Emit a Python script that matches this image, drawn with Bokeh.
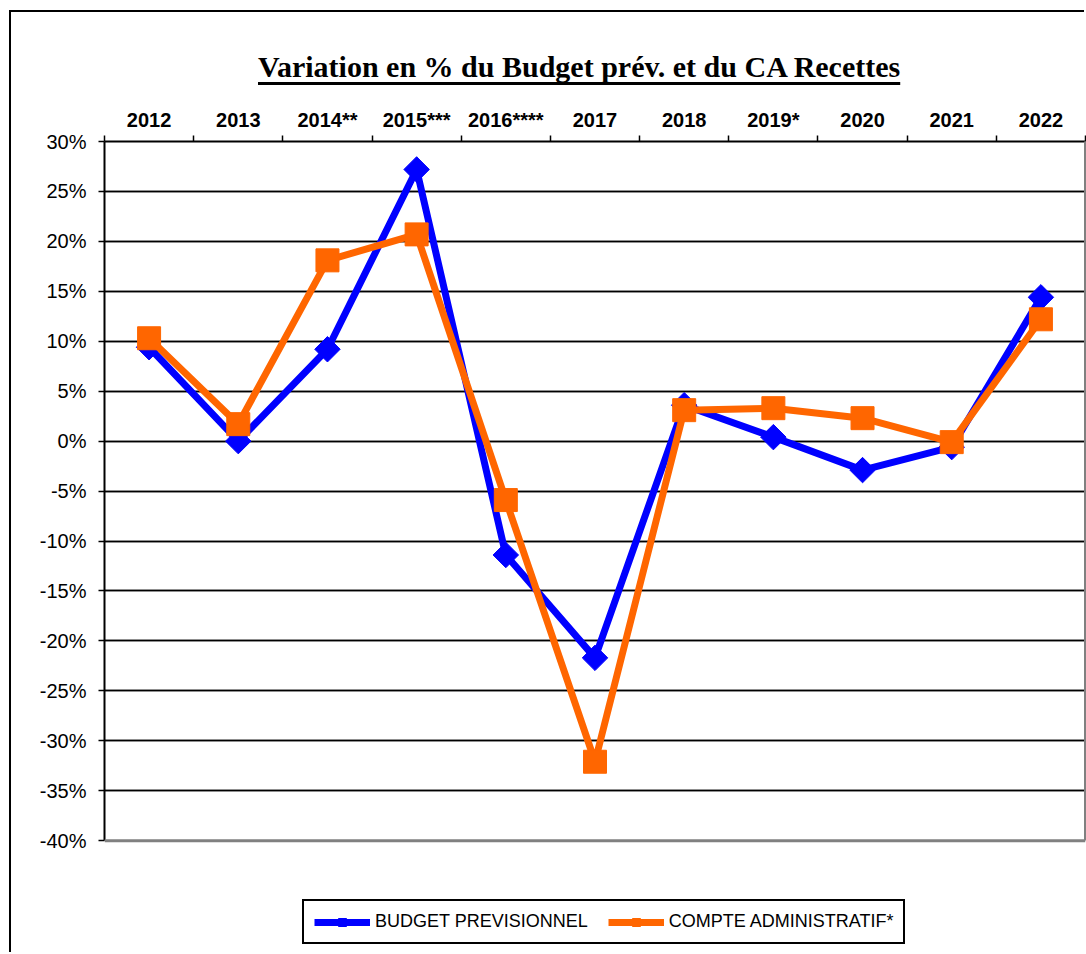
import numpy as np
from bokeh.plotting import figure
from bokeh.layouts import column
from bokeh.models import (Range1d, FixedTicker, Legend, LegendItem, ColumnDataSource,
                          Grid, Div, LinearAxis, Span)
from bokeh.embed import file_html
from bokeh.resources import INLINE

# ---------------- data ----------------
years = ["2012", "2013", "2014**", "2015***", "2016****", "2017",
         "2018", "2019*", "2020", "2021", "2022"]
budget_previsionnel = [9.4, 0.0, 9.2, 27.2, -11.4, -21.7, 3.6, 0.4, -2.9, -0.6, 14.4]
compte_administratif = [10.3, 1.7, 18.1, 20.7, -5.9, -32.1, 3.1, 3.3, 2.3, -0.1, 12.2]
series_names = ["BUDGET PREVISIONNEL", "COMPTE ADMINISTRATIF*"]
y_ticks = [-40, -35, -30, -25, -20, -15, -10, -5, 0, 5, 10, 15, 20, 25, 30]
y_tick_labels = ["-40%", "-35%", "-30%", "-25%", "-20%", "-15%", "-10%", "-5%",
                 "0%", "5%", "10%", "15%", "20%", "25%", "30%"]
title_text = "Variation en % du Budget prév. et du CA Recettes"

# category centres on a numeric axis (category boundaries at integers)
x_pos = [i + 0.5 for i in range(len(years))]
x_bounds = list(range(len(years) + 1))

# the frame continues below -40 % to leave room for the legend
y_view_bottom = y_ticks[0] - 11.4

# ---------------- title (underlined) ----------------
title_div = Div(
    text=('<div style="padding-top:40px; padding-left:247px; white-space:nowrap; '
          'font-family:\'Liberation Serif\'; font-weight:bold; font-size:30px; '
          'line-height:30px; color:black;">'
          '<span style="text-decoration:underline; text-decoration-thickness:3px; '
          'text-decoration-skip-ink:none; text-underline-offset:5px;">'
          + title_text + '</span></div>'),
    width=1075, height=79, margin=0)

# ---------------- figure ----------------
p = figure(width=1075, height=863, output_backend="svg", toolbar_location=None,
           x_range=Range1d(0, len(years)), y_range=Range1d(y_view_bottom, y_ticks[-1]),
           x_axis_location="above",
           min_border_left=93, min_border_right=1, min_border_top=50, min_border_bottom=0)

p.background_fill_color = "white"
p.border_fill_color = "white"
p.outline_line_color = None

# x axis (top)
xa = p.xaxis[0]
xa.ticker = FixedTicker(ticks=x_pos, minor_ticks=x_bounds)
xa.major_label_overrides = {x: lab for x, lab in zip(x_pos, years)}
xa.major_tick_line_color = None
xa.major_tick_out = 0
xa.major_tick_in = 0
xa.minor_tick_line_color = "black"
xa.minor_tick_line_width = 1.5
xa.minor_tick_out = 6
xa.minor_tick_in = 0
xa.axis_line_color = "black"
xa.axis_line_width = 2
xa.major_label_text_font = "Liberation Sans"
xa.major_label_text_font_style = "bold"
xa.major_label_text_font_size = "20px"
xa.major_label_text_color = "black"
xa.major_label_standoff = 5

# y axis (only over the -40 % .. 30 % span)
ya = p.yaxis[0]
ya.ticker = FixedTicker(ticks=y_ticks)
ya.bounds = (y_ticks[0], y_ticks[-1])
ya.major_label_overrides = {v: lab for v, lab in zip(y_ticks, y_tick_labels)}
ya.major_tick_line_color = "black"
ya.major_tick_line_width = 1.5
ya.major_tick_out = 6
ya.major_tick_in = 0
ya.minor_tick_line_color = None
ya.axis_line_color = "black"
ya.axis_line_width = 2
ya.major_label_text_font = "Liberation Sans"
ya.major_label_text_font_size = "20px"
ya.major_label_text_color = "black"
ya.major_label_standoff = 12

# grey right edge of the plot area
right_edge = LinearAxis(ticker=FixedTicker(ticks=[]), bounds=(y_ticks[0], y_ticks[-1]),
                        axis_line_color="#808080", axis_line_width=3,
                        major_tick_line_color=None, minor_tick_line_color=None,
                        major_tick_out=0, major_tick_in=0, minor_tick_out=0, minor_tick_in=0,
                        major_label_standoff=0, major_label_text_font_size="0px")
p.add_layout(right_edge, "right")

p.xgrid.visible = False
# light shadow under each gridline (Excel-like)
p.add_layout(Grid(dimension=1, ticker=FixedTicker(ticks=[v - 0.15 for v in y_ticks[1:]]),
                  grid_line_color="#b0b0b0", grid_line_width=1.2))
p.ygrid.ticker = FixedTicker(ticks=y_ticks[1:])
p.ygrid.grid_line_color = "black"
p.ygrid.grid_line_width = 1.5
# grey floor of the plot area
p.add_layout(Span(location=y_ticks[0], dimension="width", line_color="#808080", line_width=3))

src = ColumnDataSource(dict(x=x_pos, budget=budget_previsionnel, compte=compte_administratif))

l1 = p.line("x", "budget", source=src, line_color="#0000FF", line_width=7, line_join="round")
m1 = p.scatter("x", "budget", source=src, marker="square", angle=np.pi / 4, size=18,
               fill_color="#0000FF", line_color="#0000FF")
l2 = p.line("x", "compte", source=src, line_color="#FF6600", line_width=7, line_join="round")
m2 = p.scatter("x", "compte", source=src, marker="square", size=23,
               fill_color="#FF6600", line_color="#FF6600")

legend = Legend(items=[LegendItem(label=series_names[0], renderers=[l1, m1]),
                       LegendItem(label=series_names[1], renderers=[l2, m2])],
                orientation="horizontal", location=(198, 10),
                label_text_font="Liberation Sans", label_text_font_size="18px",
                label_text_color="black",
                glyph_width=56, glyph_height=20, label_standoff=5, spacing=20,
                padding=10, margin=0,
                border_line_color="black", border_line_width=2, border_line_alpha=1.0,
                background_fill_color="white", background_fill_alpha=1)
p.add_layout(legend)

layout = column(title_div, p, margin=(12, 0, 0, 11),
                styles={"box-shadow": "-2px -2px 0 0 black"})

open("out.html", "w", encoding="utf-8").write(file_html(layout, INLINE))
